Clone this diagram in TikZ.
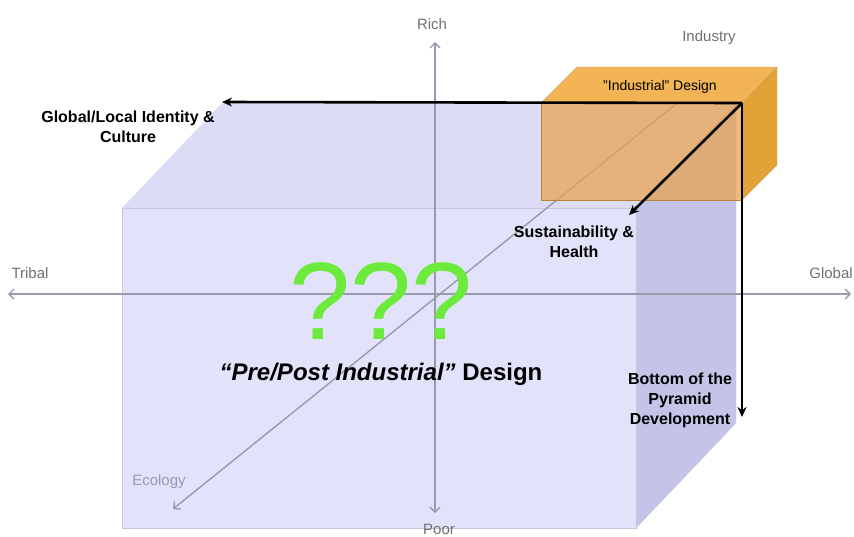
\documentclass[tikz,border=0pt]{standalone}
\usepackage{fontspec}
\setmainfont{Liberation Sans}
\usetikzlibrary{arrows.meta}

\definecolor{cubefront}{HTML}{E2E2FA}
\definecolor{cubetop}{HTML}{DCDCF6}
\definecolor{cubeside}{HTML}{C4C4E8}
\definecolor{cubeedge}{HTML}{C6C6DC}
\definecolor{axisgray}{HTML}{9A9AAE}
\definecolor{labgray}{HTML}{707070}
\definecolor{orfront}{HTML}{E9A24C}
\definecolor{ortop}{HTML}{F2B454}
\definecolor{orside}{HTML}{E2A238}
\definecolor{oredge}{HTML}{B88434}
\definecolor{qgreen}{HTML}{6CEB3C}

\begin{document}
\begin{tikzpicture}[x=1pt,y=-1pt,
    axis/.style = {draw=axisgray, line width=1.4pt},
    barb/.style = {-{Straight Barb[length=5pt,width=10pt]}},
    lab/.style = {text=labgray, font=\fontsize{15}{18}\selectfont},
    dim/.style = {draw=black, line width=2.6pt, -{Stealth[length=10pt,width=9pt]}},
    note/.style = {font=\bfseries\fontsize{16}{20}\selectfont, align=center}]
\useasboundingbox (0,0) rectangle (854,536);

% big cube
\fill[cubetop] (122,208) -- (222,103) -- (736,103) -- (636,208) -- cycle;
\fill[cubeside, draw=cubeedge] (636,208) -- (736,103) -- (736,423) -- (636,528) -- cycle;
\fill[cubefront, draw=cubeedge] (122,208) rectangle (636,528);

% axes
\node[lab] (rich) at (432,24) {Rich};
\node[lab] (poor) at (439,529) {Poor};
\node[lab] (tribal) at (30,273) {Tribal};
\node[lab] (global) at (831,273) {Global};
\node[lab] (industry) at (709,38) {Industry};
\node[lab, text=axisgray] (ecology) at (159,482) {Ecology};
\coordinate (top) at (435,42);
\coordinate (bottom) at (435,513);
\coordinate (west) at (8,294);
\coordinate (east) at (851,294);
\coordinate (sw) at (173,509);
\coordinate (ne) at (712,75);
\draw[axis, {Straight Barb[length=5pt,width=10pt]}-{Straight Barb[length=5pt,width=10pt]}] (top) -- (bottom);
\draw[axis, {Straight Barb[length=5pt,width=10pt]}-{Straight Barb[length=5pt,width=10pt]}] (west) -- (east);
\draw[axis, barb] (ne) -- (sw);

% industrial box
\fill[ortop, draw=oredge!70] (541,103) -- (577,67) -- (777,67) -- (742,103) -- cycle;
\fill[orside, draw=oredge!70] (742,103) -- (777,67) -- (777,165) -- (742,200) -- cycle;
\fill[orfront, fill opacity=0.72, draw=oredge] (541,103) rectangle (742,200);
\node[font=\fontsize{14}{16}\selectfont] (ind) at (660,87) {"Industrial" Design};

% directions
\coordinate (corner) at (742,103);
\coordinate (leftend) at (222,102);
\coordinate (downend) at (742,417);
\coordinate (diagend) at (629,215);
\draw[dim] (corner) -- (leftend);
\draw[dim] (corner) -- (downend);
\draw[dim] (corner) -- (diagend);
\node[note] (culture) at (128,127) {Global/Local Identity \&\\Culture};
\node[note] (health) at (574,242) {Sustainability \&\\Health};
\node[note] (pyramid) at (680,400) {Bottom of the\\Pyramid\\Development};

% centre
\node[text=qgreen, font=\fontsize{110}{110}\selectfont] (q) at (381,301) {???};
\node[anchor=base, font=\bfseries\fontsize{24}{28}\selectfont] (pre) at (381,380) {\itshape “Pre/Post Industrial”\upshape\ Design};
\end{tikzpicture}
\end{document}
